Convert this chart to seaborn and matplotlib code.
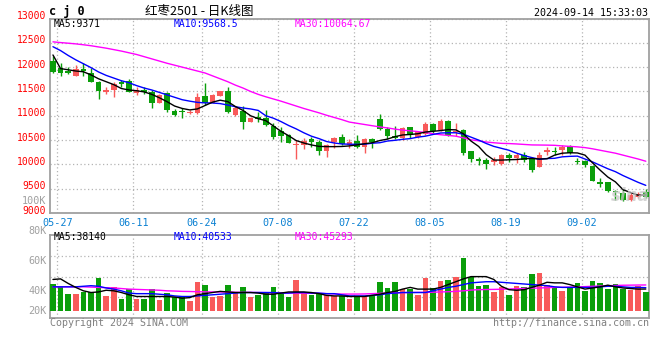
import numpy as np
import matplotlib
matplotlib.use("Agg")
import matplotlib.pyplot as plt
import matplotlib.transforms as mtrans
import seaborn as sns

# ---------------- data ----------------
tick_labels = ["05-27", "06-11", "06-24", "07-08", "07-22", "08-05", "08-19", "09-02"]
tick_index = [0, 10, 19, 29, 39, 49, 59, 69]

opens = [12125, 11988, 11919, 11823, 11960, 11871, 11693, 11480, 11528, 11700,
         11720, 11459, 11528, 11494, 11267, 11473, 11096, 11096, 11048, 11048,
         11404, 11267, 11411, 11507, 11014, 11103, 10876, 10979, 10945, 10794,
         10684, 10602, 10396, 10396, 10513, 10465, 10280, 10451, 10568, 10396,
         10478, 10348, 10520, 10931, 10725, 10588, 10533, 10760, 10568, 10623,
         10828, 10705, 10891, 10664, 10705, 10273, 10109, 10088, 10054, 10006,
         10191, 10136, 10191, 10136, 9951, 10259, 10280, 10293, 10376, 10067,
         10067, 9971, 9642, 9628, 9450, 9415, 9264, 9319, 9436]
highs = [12228, 12077, 12008, 12043, 12091, 11974, 11706, 11597, 11700, 11734,
         11748, 11597, 11597, 11528, 11439, 11494, 11130, 11151, 11116, 11473,
         11665, 11439, 11514, 11597, 11199, 11199, 10979, 11082, 11117, 10842,
         10774, 10616, 10499, 10533, 10554, 10499, 10410, 10568, 10623, 10520,
         10602, 10533, 10547, 11034, 10760, 10787, 10760, 10773, 10680, 10863,
         10842, 10924, 10911, 10856, 10719, 10280, 10157, 10122, 10143, 10211,
         10239, 10225, 10259, 10157, 10259, 10349, 10362, 10396, 10396, 10122,
         10088, 9990, 9724, 9642, 9470, 9491, 9436, 9436, 9484]
lows = [11871, 11823, 11850, 11816, 11823, 11686, 11343, 11446, 11391, 11597,
        11480, 11425, 11446, 11164, 11253, 11082, 10986, 10959, 11034, 11034,
        11219, 11253, 11404, 11048, 10993, 10732, 10863, 10876, 10794, 10520,
        10465, 10431, 10108, 10314, 10362, 10191, 10156, 10341, 10396, 10341,
        10328, 10238, 10328, 10705, 10520, 10520, 10499, 10533, 10533, 10602,
        10636, 10684, 10582, 10582, 10191, 10054, 9985, 9903, 9985, 9995,
        10054, 10033, 10054, 9848, 9945, 10191, 10190, 10190, 10211, 9998,
        9937, 9655, 9525, 9436, 9264, 9244, 9250, 9299, 9312]
closes = [11892, 11871, 11878, 11953, 11919, 11700, 11507, 11528, 11645, 11658,
          11494, 11528, 11494, 11267, 11425, 11116, 11020, 11075, 11082, 11391,
          11253, 11425, 11507, 11075, 11151, 10876, 10959, 10924, 10808, 10554,
          10588, 10444, 10417, 10485, 10465, 10280, 10396, 10547, 10410, 10451,
          10362, 10520, 10451, 10725, 10588, 10533, 10753, 10602, 10671, 10828,
          10684, 10897, 10603, 10692, 10239, 10109, 10067, 10006, 10088, 10191,
          10136, 10191, 10088, 9882, 10191, 10294, 10260, 10348, 10239, 10053,
          9985, 9662, 9587, 9450, 9422, 9264, 9367, 9401, 9333]

ma5 = [12250, 11970, 11945, 11920, 11905, 11840, 11760, 11700, 11640, 11560,
       11530, 11515, 11490, 11440, 11370, 11290, 11200, 11150, 11120, 11140,
       11210, 11280, 11320, 11290, 11190, 11110, 11000, 10940, 10900, 10790,
       10680, 10590, 10490, 10440, 10400, 10370, 10365, 10365, 10368, 10380,
       10400, 10425, 10445, 10490, 10520, 10570, 10605, 10615, 10630, 10665,
       10680, 10695, 10715, 10710, 10630, 10480, 10370, 10200, 10090, 10088,
       10095, 10100, 10115, 10122, 10110, 10115, 10190, 10230, 10239, 10235,
       10190, 10030, 9880, 9740, 9640, 9480, 9420, 9365, 9371]
ma10 = [12420, 12340, 12240, 12150, 12070, 11990, 11900, 11830, 11775, 11720,
        11680, 11620, 11570, 11530, 11480, 11430, 11380, 11330, 11300, 11275,
        11265, 11262, 11250, 11220, 11185, 11160, 11140, 11110, 11000, 10950,
        10880, 10800, 10730, 10650, 10580, 10530, 10470, 10440, 10420, 10415,
        10412, 10415, 10435, 10445, 10480, 10495, 10515, 10530, 10560, 10580,
        10615, 10645, 10650, 10650, 10620, 10560, 10500, 10430, 10370, 10330,
        10290, 10230, 10180, 10140, 10105, 10120, 10125, 10155, 10165, 10170,
        10110, 10050, 9980, 9910, 9850, 9770, 9700, 9630, 9568.5]
ma30 = [12520, 12505, 12492, 12478, 12460, 12440, 12415, 12390, 12360, 12330,
        12295, 12260, 12215, 12170, 12125, 12080, 12040, 12000, 11960, 11920,
        11880, 11820, 11760, 11700, 11630, 11570, 11500, 11440, 11390, 11345,
        11300, 11250, 11200, 11150, 11105, 11060, 11010, 10965, 10920, 10870,
        10845, 10820, 10795, 10770, 10750, 10725, 10705, 10690, 10675, 10655,
        10630, 10610, 10595, 10580, 10545, 10505, 10485, 10460, 10445, 10432,
        10428, 10420, 10410, 10400, 10398, 10396, 10392, 10380, 10370, 10360,
        10345, 10320, 10290, 10260, 10230, 10190, 10150, 10110, 10064.67]

volume_k = [47.0, 41.0, 29.3, 29.3, 33.4, 33.4, 56.9, 26.4, 41.0, 20.5,
            37.5, 20.5, 20.5, 37.5, 18.7, 31.1, 24.6, 24.6, 17.0, 49.8,
            45.1, 24.0, 26.4, 45.1, 30.5, 41.6, 24.0, 27.5, 31.1, 41.6,
            31.1, 24.0, 54.0, 32.2, 27.5, 31.1, 27.5, 26.4, 26.4, 20.5,
            26.4, 24.6, 26.4, 51.0, 40.4, 51.0, 37.5, 37.5, 27.5, 58.1,
            40.4, 52.8, 54.0, 59.8, 93.3, 59.8, 44.0, 45.1, 33.4, 42.2,
            27.5, 44.0, 42.2, 64.5, 66.9, 45.1, 41.0, 35.2, 41.0, 49.3,
            35.2, 52.8, 49.3, 38.1, 46.9, 38.1, 36.3, 44.0, 33.4]
vma5_k = [55, 56, 48, 41, 35, 32, 33, 36, 35, 32, 28, 25, 25, 25, 25, 25, 24, 22, 23, 28,
          30, 32, 34, 33, 32, 32, 32, 31, 29, 29, 31, 33, 33, 33, 32, 30, 27, 26, 26, 25,
          25, 25, 27, 29, 32, 34, 38, 41, 38, 38, 38, 41, 46, 51, 56, 60, 60, 60, 55, 43,
          37, 36, 37, 41, 45, 50, 49, 49, 46, 42, 38, 40, 42, 45, 42, 40, 39, 38, 38.14]
vma10_k = [42, 42, 42, 42, 43, 44, 43, 40, 38, 35, 31, 30, 30, 30, 29, 28, 26, 25, 25, 26,
           27, 28, 29, 30, 31, 32, 32, 32, 32, 32, 31, 31, 32, 32, 31, 31, 30, 30, 28, 26,
           26, 26, 27, 28, 30, 31, 32, 32, 32, 32, 35, 38, 41, 43, 46, 49, 50, 51, 51, 50,
           49, 48, 47, 46, 45, 44, 42, 41, 41, 41, 41, 41, 42, 43, 43, 42, 41, 41, 40.53]
vma30_k = [42, 42, 42, 42, 42, 41.5, 41, 40.5, 40, 39, 38, 37.5, 37, 36.5, 36, 35, 34.6, 34, 33.8, 33.4,
           33.2, 33, 32.8, 32.8, 32.5, 32.3, 32.2, 32, 31.8, 31.5, 31.3, 31.1, 31, 30.8, 30.6, 30.5, 30, 29.5, 29.3, 29.3,
           29.3, 29.5, 30, 30.5, 31.2, 31.6, 31.8, 32, 32.2, 32.2, 32.5, 33, 33.4, 34, 35, 36.3, 37, 37.3, 37.5, 37.8,
           38.2, 38.6, 39.3, 39.6, 40, 40.5, 41, 41.3, 41.5, 42, 42.4, 43, 43.4, 44, 44.4, 44.8, 45, 45.2, 45.29]

price_ticks = [9000, 9500, 10000, 10500, 11000, 11500, 12000, 12500, 13000]

# ---------------- style ----------------
sns.set_theme(style="white")
plt.rcParams['font.family'] = ['DejaVu Sans Mono', 'Noto Sans CJK SC', 'DejaVu Sans']

RED = "#F85A5A"
GREEN = "#0A9E0A"
GRID = "#B4B4B4"
FRAME = "#A0A0A0"

W, H = 660, 360
fig = plt.figure(figsize=(6.6, 3.6), dpi=100)
fig.patch.set_facecolor("white")


def fx(px):
    return px / W


def fy(py):
    return 1 - py / H


L, R = 50, 649.3
ax = fig.add_axes([fx(L), fy(213), fx(R) - fx(L), fy(18.5) - fy(213)])
axv = fig.add_axes([fx(L), fy(318.3), fx(R) - fx(L), fy(234.7) - fy(318.3)])

n = len(closes)
x = np.arange(n)
o = np.array(opens, float)
c = np.array(closes, float)
hi = np.array(highs, float)
lo = np.array(lows, float)
up = c >= o
cols = [RED if u else GREEN for u in up]

# ---------------- price panel ----------------
ax.vlines(x, lo, hi, colors=cols, lw=1.0, zorder=3)
body_bot = np.minimum(o, c)
body_h = np.maximum(np.abs(c - o), 14)
ax.bar(x, body_h, bottom=body_bot, width=0.74, color=cols, lw=0, zorder=4)

sns.lineplot(x=x, y=ma30, ax=ax, color="#FF00FF", lw=1.0, zorder=5)
sns.lineplot(x=x, y=ma10, ax=ax, color="#0000FF", lw=1.0, zorder=6)
sns.lineplot(x=x, y=ma5, ax=ax, color="black", lw=1.0, zorder=7)

xmin, xmax = -0.39, 78.46
ax.set_xlim(xmin, xmax)
ax.set_ylim(9000, 13000)
ax.set_yticks(price_ticks)
ax.set_yticklabels([str(t) for t in price_ticks])
grid_x = [i + 0.57 for i in tick_index]
ax.set_xticks(grid_x)
ax.set_xticklabels(tick_labels)
ax.grid(True, color=GRID, ls=(0, (1, 2)), lw=0.9)
ax.set_axisbelow(True)
ax.tick_params(axis="y", length=0, pad=3, labelsize=7, labelcolor="#FF0000")
ax.tick_params(axis="x", length=0, pad=3.5, labelsize=7.3, labelcolor="#0A80D2")
offset = mtrans.ScaledTranslation(0, 2.5 / 72, fig.dpi_scale_trans)
for lab in ax.get_yticklabels():
    lab.set_transform(lab.get_transform() + offset)
ax.set_xlabel("")
ax.set_ylabel("")
for s in ax.spines.values():
    s.set_color(FRAME)
    s.set_linewidth(1.3)

# ---------------- volume panel ----------------
vol = np.array(volume_k) * 1000
axv.bar(x, vol, width=0.74, color=cols, lw=0, zorder=3)
sns.lineplot(x=x, y=np.array(vma30_k) * 1000, ax=axv, color="#FF00FF", lw=1.0, zorder=5)
sns.lineplot(x=x, y=np.array(vma10_k) * 1000, ax=axv, color="#0000FF", lw=1.0, zorder=6)
sns.lineplot(x=x, y=np.array(vma5_k) * 1000, ax=axv, color="black", lw=1.0, zorder=7)
vmin, vmax = -13400, 133800
axv.set_xlim(xmin, xmax)
axv.set_ylim(vmin, vmax)
axv.set_xticks(grid_x)
axv.set_xticklabels([])
axv.set_yticks([vmin + f * (vmax - vmin) for f in (0.25, 0.5, 0.75)])
axv.set_yticklabels([])
axv.grid(True, color=GRID, ls=(0, (1, 2)), lw=0.9)
axv.set_axisbelow(True)
axv.tick_params(length=0)
axv.set_xlabel("")
axv.set_ylabel("")
for s in axv.spines.values():
    s.set_color(FRAME)
    s.set_linewidth(1.3)

# ---------------- texts ----------------
fig.text(fx(49), fy(11.5), "c j 0", fontsize=8.5, fontweight="bold", color="black",
         ha="left", va="center")
fig.text(fx(199), fy(11.5), "红枣2501 - 日K线图", fontsize=9, color="black",
         ha="center", va="center", family=["Noto Sans CJK SC", "DejaVu Sans"])
fig.text(fx(648.5), fy(12.5), "2024-09-14 15:33:03", fontsize=7.2, color="black",
         ha="right", va="center")

fig.text(fx(54), fy(24), "MA5:9371", fontsize=7, color="black", ha="left", va="center")
fig.text(fx(174), fy(24), "MA10:9568.5", fontsize=7, color="#0000FF", ha="left", va="center")
fig.text(fx(294.5), fy(24), "MA30:10064.67", fontsize=7, color="#FF00FF", ha="left", va="center")

fig.text(fx(54), fy(237.5), "MA5:38140", fontsize=7, color="black", ha="left", va="center")
fig.text(fx(174), fy(237.5), "MA10:40533", fontsize=7, color="#0000FF", ha="left", va="center")
fig.text(fx(294.5), fy(237.5), "MA30:45293", fontsize=7, color="#FF00FF", ha="left", va="center")

for lab, py in [("100K", 200.7), ("80K", 230.7), ("60K", 260.7), ("40K", 290.7), ("20K", 310.7)]:
    fig.text(fx(46.5), fy(py), lab, fontsize=7.3, color="#A0A0A0", ha="right", va="center")

fig.text(fx(49.5), fy(323.5), "Copyright 2024 SINA.COM", fontsize=7.2, color="#808080",
         ha="left", va="center")
fig.text(fx(649), fy(323.5), "http://finance.sina.com.cn", fontsize=7.2, color="#808080",
         ha="right", va="center")

fig.text(fx(630), fy(196), "sina", fontsize=12, fontstyle="italic", fontweight="bold",
         color="#C8C8C8", alpha=0.75, ha="center", va="center", family="DejaVu Sans")

fig.savefig("out.png", dpi=100)
